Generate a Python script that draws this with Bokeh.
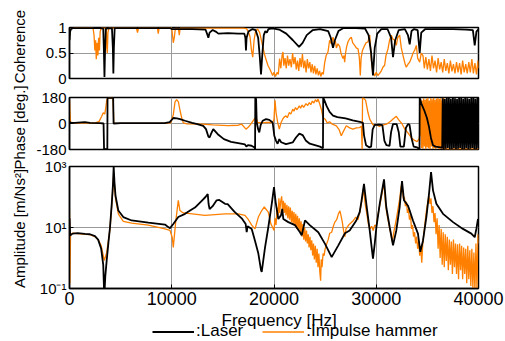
import numpy as np
from bokeh.plotting import figure
from bokeh.models import Range1d, FixedTicker, Grid, Legend, LegendItem, Label
from bokeh.layouts import column, row
from bokeh.embed import file_html
from bokeh.resources import INLINE

FONT = "Liberation Sans"
BLACK = "#000000"
ORANGE = "#ff8000"
GRID = "#9a9a9a"

# ---------------- data (frequency [Hz], value) ----------------
x_ticks = [0, 10000, 20000, 30000, 40000]
x_tick_labels = ["0", "10000", "20000", "30000", "40000"]
coh_ticks = [0, 0.5, 1]
coh_tick_labels = ["0", "0.5", "1"]
phase_ticks = [-180, 0, 180]
phase_tick_labels = ["-180", "0", "180"]
amp_ticks = [0.1, 10, 1000]
amp_tick_labels = ["10\u207b\u00b9", "10\u00b9", "10\u00b3"]

laser_coherence = [
    (0, 0.75), (60, 0.92), (150, 0.97), (400, 0.99), (1500, 0.99), (3000, 0.99), (3300, 0.98),
    (3370, 0.5), (3420, 0.03), (3470, 0.5), (3550, 0.98), (4150, 0.99), (4240, 0.6), (4290, 0.1),
    (4340, 0.6), (4420, 0.99), (6000, 0.99), (9800, 0.99), (10000, 0.97), (12000, 0.97),
    (13300, 0.96), (13500, 0.85), (13580, 0.8), (13700, 0.9), (14000, 0.95), (14300, 0.92),
    (14560, 0.88), (15500, 0.89), (16500, 0.88), (17100, 0.88), (17200, 0.8), (17260, 0.55),
    (17320, 0.8), (17500, 0.92), (17900, 0.97), (18200, 0.95), (18450, 0.8), (18600, 0.45),
    (18730, 0.08), (18850, 0.45), (19000, 0.85), (19150, 0.93), (19300, 0.9), (19450, 0.97),
    (19700, 0.98), (20000, 0.98), (20500, 0.96), (21200, 0.88), (21850, 0.75), (22450, 0.62),
    (22800, 0.7), (23200, 0.85), (23800, 0.95), (24500, 0.97), (25300, 0.93), (25550, 0.8),
    (25770, 0.6), (25950, 0.75), (26300, 0.93), (26800, 0.99), (28000, 0.99), (28900, 0.98),
    (29250, 0.85), (29500, 0.5), (29680, 0.06), (29850, 0.6), (30100, 0.88), (30500, 0.97),
    (31100, 0.97), (31450, 0.8), (31640, 0.42), (31850, 0.75), (32200, 0.95), (32800, 0.97),
    (33100, 0.85), (33270, 0.67), (33450, 0.93), (33700, 0.97), (34050, 0.95), (34250, 0.5),
    (34400, 0.9), (34800, 0.97), (36000, 0.97), (37500, 0.97), (38800, 0.96), (39450, 0.95),
    (39630, 0.65), (39800, 0.92), (40000, 0.97)]

hammer_coherence = [
    (0, 0.85), (80, 0.97), (300, 0.99), (2300, 0.99), (2400, 0.85), (2480, 0.55), (2550, 0.75),
    (2620, 0.38), (2700, 0.7), (2780, 0.45), (2850, 0.8), (2930, 0.55), (3000, 0.92), (3100, 0.99),
    (3600, 0.99), (3650, 0.6), (3700, 0.5), (3760, 0.9), (3850, 0.99), (6550, 0.99), (6650, 0.9),
    (6750, 0.99), (8600, 0.99), (8680, 0.88), (8760, 0.99), (10000, 0.99), (10150, 0.7),
    (10250, 0.8), (10350, 0.98), (10650, 0.98), (10740, 0.85), (10820, 0.99), (17000, 0.99),
    (17300, 0.98), (17500, 0.92), (17650, 0.82), (17800, 0.55), (17920, 0.42), (18050, 0.75),
    (18200, 0.93), (18400, 0.97), (18600, 0.9), (18800, 0.72), (19100, 0.45), (19400, 0.26),
    (19600, 0.18), (19870, 0.06), (20000, 0.12), (20150, 0.04), (20300, 0.12), (20420, 0.08),
    (20550, 0.39), (20670, 0.2), (20790, 0.45), (20880, 0.52), (20960, 0.25), (21080, 0.4),
    (21200, 0.2), (21320, 0.45), (21440, 0.25), (21560, 0.38), (21700, 0.22), (21820, 0.5),
    (21940, 0.28), (22060, 0.42), (22180, 0.18), (22300, 0.35), (22420, 0.15), (22540, 0.4),
    (22660, 0.22), (22780, 0.48), (22900, 0.2), (23020, 0.35), (23140, 0.12), (23260, 0.38),
    (23380, 0.2), (23500, 0.32), (23620, 0.12), (23740, 0.28), (23860, 0.1), (23980, 0.25),
    (24100, 0.08), (24220, 0.2), (24340, 0.06), (24460, 0.15), (24580, 0.04), (24700, 0.12),
    (24820, 0.08), (24950, 0.3), (25100, 0.45), (25280, 0.52), (25440, 0.75), (25600, 0.68),
    (25770, 0.81), (25900, 0.7), (26000, 0.74), (26100, 0.6), (26250, 0.68), (26420, 0.63),
    (26550, 0.5), (26650, 0.44), (26750, 0.39), (26850, 0.45), (26910, 0.32), (27000, 0.5),
    (27100, 0.62), (27240, 0.72), (27400, 0.78), (27560, 0.81), (27700, 0.7), (27890, 0.65),
    (28050, 0.6), (28220, 0.58), (28350, 0.4), (28440, 0.06), (28520, 0.4), (28650, 0.55),
    (28870, 0.65), (29000, 0.7), (29190, 0.72), (29360, 0.85), (29450, 0.6), (29520, 0.35),
    (29650, 0.15), (29850, 0.05), (30000, 0.12), (30150, 0.06), (30330, 0.1), (30500, 0.15),
    (30650, 0.22), (30820, 0.26), (30950, 0.45), (31150, 0.58), (31300, 0.75), (31470, 0.85),
    (31600, 0.78), (31800, 0.75), (31960, 0.65), (32100, 0.8), (32290, 0.85), (32450, 0.6),
    (32620, 0.45), (32800, 0.3), (32940, 0.22), (33100, 0.28), (33270, 0.32), (33430, 0.4),
    (33600, 0.5), (33750, 0.55), (33920, 0.65), (34050, 0.4), (34250, 0.32), (34400, 0.5),
    (34570, 0.45), (34700, 0.2), (34850, 0.42), (35000, 0.18), (35150, 0.38), (35300, 0.15),
    (35450, 0.45), (35600, 0.2), (35750, 0.35), (35900, 0.12), (36050, 0.4), (36200, 0.18),
    (36350, 0.32), (36500, 0.12), (36650, 0.38), (36800, 0.15), (36950, 0.3), (37100, 0.1),
    (37250, 0.35), (37400, 0.14), (37550, 0.28), (37700, 0.1), (37850, 0.32), (38000, 0.12),
    (38150, 0.3), (38300, 0.08), (38450, 0.35), (38600, 0.12), (38750, 0.28), (38900, 0.1),
    (39050, 0.32), (39200, 0.12), (39350, 0.38), (39500, 0.1), (39650, 0.3), (39800, 0.08),
    (39950, 0.35), (40000, 0.2)]

laser_phase = [
    (0, 15), (60, 5), (500, 4), (1500, 10), (2000, 5), (3000, 3), (3330, 0), (3380, -178),
    (3700, -178), (3720, 179), (4270, 178), (4310, 0), (5000, 3), (9300, 3), (9800, 10),
    (10150, 38), (10500, 35), (10810, 30), (11300, 19), (12000, 5), (12500, -4), (13080, -16),
    (13350, -39), (13580, -90), (13700, -97), (13850, -70), (14060, -39), (14500, -74),
    (15100, -108), (15800, -127), (16500, -136), (17160, -145), (17300, -160), (17450, -150),
    (17800, -154), (18100, -166), (18150, -179), (18170, 179), (18250, 170), (18310, 7),
    (18450, -40), (18560, -62), (18700, -10), (18890, 19), (19220, 30), (19540, 25), (19870, 7),
    (20030, -85), (20200, -120), (20350, -140), (20520, -108), (20700, -130), (21170, -143),
    (21830, -131), (22150, -97), (22480, -70), (22800, -80), (23130, -120), (23500, -140),
    (24000, -150), (24500, -160), (24790, -172), (24810, 179), (24900, 165), (25150, 120),
    (25440, 80), (25770, 55), (26200, 44), (27000, 35), (27700, 22), (28400, 12), (28700, 5),
    (28800, -80), (29000, -150), (29300, -165), (29500, -160), (29650, -40), (29850, -10),
    (30300, -8), (30600, -12), (30800, -120), (30990, -150), (31300, -155), (31450, -60),
    (31630, -5), (32000, -5), (32200, -60), (32360, -160), (32700, -160), (32900, -30),
    (33100, -5), (33250, -8), (33450, -100), (33660, -160), (34000, -165), (34230, -178),
    (34250, 179), (34400, 140), (34700, 90), (34950, 40), (35150, -20), (35350, -100),
    (35550, -150), (35800, -160), (36300, -165), (36450, -170), (36500, 175), (36600, -178),
    (36700, 170), (36800, -175), (36900, 178), (37000, -170), (37100, 176), (37200, -178),
    (37300, 172), (37400, -176), (37500, 178), (37600, -172), (37700, 175), (37800, -178),
    (37900, 170), (38000, -175), (38100, 178), (38200, -170), (38300, 176), (38400, -178),
    (38500, 172), (38600, -176), (38700, 178), (38800, -172), (38900, 175), (39000, -178),
    (39100, 170), (39200, -175), (39300, 178), (39400, -170), (39500, 176), (39600, -178),
    (39700, 172), (39800, -176), (39900, 178), (40000, -170)]

hammer_phase = [
    (0, 160), (40, 90), (100, 10), (500, 3), (1500, 5), (2500, 3), (2900, 15), (3150, 50),
    (3300, 75), (3450, 65), (3550, 110), (3650, 165), (3800, 176), (4250, 176), (4300, 80),
    (4330, 2), (6000, 1), (9500, 2), (9900, 5), (10150, 60), (10320, 150), (10480, 165),
    (10650, 150), (10810, 90), (10970, 40), (11130, 5), (11500, -2), (13000, -5), (14000, -10),
    (15500, -15), (16500, -12), (16840, -5), (17260, -39), (17500, -25), (17750, -3),
    (18070, 30), (18240, 41), (18400, 7), (18800, 5), (19300, 8), (19870, 7), (20000, 30),
    (20100, 160), (20200, 76), (20360, 7), (20520, -39), (20690, 7), (20850, 30), (21000, 45),
    (21170, 53), (21300, 40), (21500, 76), (21650, 65), (21830, 99), (21950, 85), (22100, 110),
    (22250, 95), (22480, 122), (22600, 105), (22750, 128), (22900, 112), (23130, 138),
    (23300, 125), (23450, 145), (23600, 130), (23750, 155), (23900, 142), (24050, 165),
    (24200, 150), (24300, 170), (24450, 140), (24630, 99), (24790, 41), (25000, 30),
    (25200, 5), (25440, 12), (25700, -5), (26100, -16), (26350, -40), (26580, -85),
    (26750, -60), (27070, -16), (27400, -30), (27720, -39), (28050, -30), (28370, -28),
    (28550, -20), (28620, -179), (28660, 179), (28800, 172), (28960, 160), (29190, 76),
    (29360, 30), (29680, -10), (30000, -8), (30300, -20), (30700, -10), (31000, -5),
    (31400, 15), (31700, 35), (31960, 50), (32200, 25), (32500, 0), (32800, -40), (33100, -65),
    (33400, -95), (33700, -115), (34000, -125), (34200, -105), (34300, -60), (34350, 170),
    (34420, -170), (34490, 160), (34560, -175), (34630, 175), (34700, -160), (34770, 165),
    (34840, -178), (34910, 172), (34980, -165), (35050, 178), (35120, -172), (35190, 160),
    (35260, -178), (35330, 175), (35400, -160), (35470, 168), (35540, -175), (35610, 178),
    (35680, -170), (35750, 165), (35820, -178), (35890, 172), (35960, -168), (36030, 176),
    (36100, -175), (36170, 170), (36240, -178), (36310, 175), (36380, -172), (36450, 160),
    (36520, -178), (36600, 178), (36700, -175), (40000, -175)]

laser_amplitude = [
    (0, 20), (60, 5.5), (300, 6.3), (800, 6.5), (1500, 6.2), (2000, 6.0), (2490, 5.2),
    (2800, 4.0), (3100, 2.0), (3300, 0.6), (3400, 0.05), (3500, 0.25), (3640, 0.85), (3800, 3),
    (3960, 10), (4125, 55), (4250, 250), (4320, 1000), (4400, 300), (4500, 110), (4775, 36),
    (5260, 22), (6080, 17), (7710, 14.5), (9340, 12.5), (9660, 10.3), (9830, 9.5), (10150, 13),
    (10640, 22), (11300, 28), (11790, 36), (12270, 45), (12930, 75), (13300, 100), (13520, 125),
    (13600, 60), (13700, 40), (14000, 50), (14390, 78), (14650, 80), (15210, 60), (15470, 58),
    (16120, 33), (16840, 20), (17230, 13), (17330, 7), (17420, 11), (17820, 9), (18140, 3.7),
    (18470, 1.4), (18730, 0.4), (18800, 0.35), (19120, 2.2), (19440, 10), (19780, 60),
    (20000, 210), (20160, 68), (20420, 19), (20680, 25), (20810, 41), (20910, 19), (21400, 15),
    (22050, 12), (22540, 7), (22710, 5.5), (23030, 17), (23500, 12), (24330, 7), (24990, 2.9),
    (25640, 1.07), (26290, 2.6), (26940, 6.5), (27400, 8), (28050, 17), (28380, 32),
    (28540, 68), (28800, 270), (29030, 60), (29360, 8), (29680, 0.95), (29850, 2.9),
    (30010, 10), (30340, 60), (30760, 380), (30980, 47), (31320, 10), (31640, 2.6), (31960, 8),
    (32290, 47), (32520, 330), (32710, 78), (33100, 52), (33270, 36), (33590, 17), (34080, 6.3),
    (34310, 1.6), (34570, 3.7), (34900, 22), (35160, 126), (35360, 650), (35550, 165),
    (35880, 60), (36530, 28), (37510, 15), (38480, 9), (39300, 6.3), (39630, 4.8), (39790, 9),
    (39950, 19)]

hammer_amplitude = [
    (0, 35), (40, 0.15), (100, 6), (300, 6.5), (800, 6.3), (1500, 6.0), (2000, 5.8),
    (2490, 5.0), (2800, 4.0), (3100, 2.5), (3400, 0.83), (3640, 1.5), (3960, 9), (4125, 50),
    (4250, 200), (4320, 600), (4400, 250), (4500, 90), (4775, 28), (5260, 16), (6080, 14),
    (7710, 12), (9340, 9), (9830, 8), (10050, 4.7), (10150, 2.2), (10250, 5), (10400, 17),
    (10640, 78), (10800, 36), (11130, 30), (12000, 28), (13250, 25), (15210, 28), (16510, 28),
    (17160, 25), (17500, 18), (17820, 12), (18140, 9), (18470, 22), (18800, 36), (19050, 47),
    (19440, 32), (19700, 13), (19870, 10), (20000, 8), (20100, 20), (20200, 12), (20300, 45),
    (20400, 25), (20480, 90), (20560, 30), (20650, 70), (20750, 105), (20830, 35), (20920, 75),
    (21000, 30), (21080, 65), (21170, 25), (21260, 55), (21350, 20), (21430, 50), (21520, 18),
    (21600, 45), (21700, 15), (21780, 35), (21870, 13), (21950, 32), (22050, 11), (22130, 28),
    (22220, 9), (22300, 24), (22400, 8), (22480, 20), (22570, 7), (22650, 16), (22740, 5),
    (22820, 13), (22920, 4), (23000, 10), (23090, 3.5), (23180, 8), (23260, 3), (23350, 6),
    (23430, 2.2), (23520, 5), (23600, 1.8), (23690, 3.8), (23780, 1.2), (23860, 3), (23950, 0.9),
    (24040, 2.5), (24130, 0.7), (24220, 2), (24300, 0.5), (24390, 1.4), (24480, 0.35),
    (24560, 0.18), (24620, 0.9), (24700, 0.5), (24800, 1.4), (24900, 1.2), (25000, 2),
    (25150, 2.9), (25300, 4), (25450, 6.5), (25640, 7), (25800, 11), (25950, 15), (26130, 18),
    (26300, 28), (26450, 35), (26550, 25), (26680, 15), (26800, 8), (26940, 5), (27040, 9),
    (27300, 12), (27700, 16), (28000, 22), (28200, 18), (28380, 30), (28540, 60), (28700, 130),
    (28780, 220), (28850, 90), (28950, 50), (29100, 25), (29250, 12), (29400, 9), (29550, 11),
    (29700, 8), (29850, 12), (30000, 11), (30150, 25), (30300, 45), (30450, 80), (30600, 150),
    (30700, 260), (30800, 180), (30900, 60), (31000, 35), (31100, 22), (31200, 15), (31320, 9),
    (31450, 6), (31550, 3.5), (31650, 5), (31750, 8), (31850, 12), (32000, 22), (32150, 45),
    (32300, 90), (32420, 200), (32500, 280), (32580, 150), (32650, 90), (32750, 100),
    (32850, 50), (32950, 70), (33050, 30), (33150, 40), (33250, 18), (33350, 25), (33450, 9),
    (33550, 12), (33650, 5), (33750, 7), (33850, 3), (33950, 5), (34050, 2), (34150, 3.5),
    (34250, 1.2), (34350, 2.5), (34450, 0.7), (34550, 3), (34650, 6), (34750, 12), (34850, 25),
    (34950, 45), (35050, 70), (35150, 110), (35250, 60), (35350, 90), (35450, 30), (35550, 50),
    (35650, 15), (35750, 30), (35850, 6), (35950, 20), (36050, 2), (36150, 12), (36250, 1),
    (36350, 9), (36450, 0.6), (36550, 7), (36650, 0.5), (36750, 6), (36850, 0.8), (36950, 5),
    (37050, 0.4), (37150, 4), (37250, 0.6), (37350, 3.5), (37450, 0.3), (37550, 4), (37650, 0.5),
    (37750, 3), (37850, 0.3), (37950, 2.8), (38050, 0.2), (38150, 3), (38250, 0.4), (38350, 2.5),
    (38450, 0.2), (38550, 2.2), (38650, 0.3), (38750, 2), (38850, 0.15), (38950, 2.5),
    (39050, 0.2), (39150, 1.8), (39250, 0.12), (39350, 2), (39450, 0.1), (39550, 1.5),
    (39650, 0.08), (39750, 3), (39850, 0.09), (39950, 6), (40000, 3)]


def xy(pairs):
    f, v = zip(*pairs)
    return list(f), list(v)


PW = 475  # panel width (frame 409 px)


def panel(height, b_top, b_bottom, y_range, y_type, yticks, ylabels, ygrid, show_x):
    p = figure(width=PW, height=height, x_range=Range1d(0, 40000),
               y_range=y_range, y_axis_type=y_type,
               x_axis_location="below" if show_x else None,
               output_backend="svg", toolbar_location=None,
               min_border_left=39, min_border_right=27, min_border_top=b_top,
               min_border_bottom=b_bottom, background_fill_color="white",
               border_fill_color="white")
    p.center = [r for r in p.center if not isinstance(r, Grid)]
    for ax in p.axis:
        ax.major_tick_in = 4
        ax.major_tick_out = 0
        ax.minor_tick_in = 0
        ax.minor_tick_out = 0
        ax.axis_line_color = BLACK
        ax.axis_line_width = 1.5
        ax.major_tick_line_color = BLACK
        ax.major_tick_line_width = 1
        ax.major_label_text_font = FONT
        ax.major_label_text_font_size = "15px"
        ax.major_label_text_color = BLACK
        ax.major_label_standoff = 3
    for ax in p.yaxis:
        ax.ticker = FixedTicker(ticks=yticks)
        ax.major_label_overrides = dict(zip(yticks, ylabels))
    if show_x:
        for ax in p.xaxis:
            ax.ticker = FixedTicker(ticks=x_ticks)
            ax.major_label_overrides = dict(zip(x_ticks, x_tick_labels))
            ax.major_label_text_font_size = "18px"
            ax.major_label_standoff = 3
    p.add_layout(Grid(dimension=0, ticker=FixedTicker(ticks=x_ticks[1:-1]),
                      grid_line_color=GRID, grid_line_width=1))
    p.add_layout(Grid(dimension=1, ticker=FixedTicker(ticks=[ygrid]),
                      grid_line_color=GRID, grid_line_width=1))
    p.outline_line_color = BLACK
    p.outline_line_width = 1.5
    return p


def blank(width, height):
    b = figure(width=width, height=height, x_range=Range1d(0, width),
               y_range=Range1d(0, height), x_axis_location=None, y_axis_location=None,
               output_backend="svg", toolbar_location=None, min_border=0)
    b.grid.visible = False
    b.outline_line_color = None
    return b


# coherence: frame 27..78
p1 = panel(88, 27, 10, Range1d(0, 1), "linear", coh_ticks, coh_tick_labels, 0.5, False)
f, v = xy(hammer_coherence)
p1.line(f, v, line_color=ORANGE, line_width=1.3)
f, v = xy(laser_coherence)
p1.line(f, v, line_color=BLACK, line_width=1.8)

# phase: frame 97..149
p2 = panel(69, 9, 8, Range1d(-180, 180), "linear", phase_ticks, phase_tick_labels, 0, False)
f, v = xy(hammer_phase)
p2.line(f, v, line_color=ORANGE, line_width=1.3)
f, v = xy(laser_phase)
p2.line(f, v, line_color=BLACK, line_width=1.8)

# amplitude: frame 166..288
p3 = panel(155, 9, 24, Range1d(0.1, 1000), "log", amp_ticks, amp_tick_labels, 10, True)
f, v = xy(hammer_amplitude)
p3.line(f, v, line_color=ORANGE, line_width=1.3)
f, v = xy(laser_amplitude)
p3.line(f, v, line_color=BLACK, line_width=1.8)

# bottom strip: x-axis title and legend (page y 312..341)
SH = 29
strip = blank(PW, SH)
strip.add_layout(Label(x=243.5, y=SH - 7.5, text="Frequency [Hz]", text_align="center",
                       text_baseline="middle", text_font=FONT, text_font_size="17px",
                       text_color=BLACK))
# legend swatches only (a single point draws no line)
g_las = strip.line([0], [0], line_color=BLACK, line_width=1.8)
g_ham = strip.line([0], [0], line_color=ORANGE, line_width=1.3)
legend = Legend(items=[LegendItem(label=":Laser", renderers=[g_las]),
                       LegendItem(label=":Impulse hammer", renderers=[g_ham])],
                location=(83, 0), orientation="horizontal",
                border_line_alpha=0, background_fill_alpha=0, padding=0, margin=0,
                spacing=19, glyph_width=42, glyph_height=17, label_standoff=2,
                label_height=17, label_text_font=FONT, label_text_font_size="17px",
                label_text_color=BLACK)
strip.add_layout(legend, "center")

# y-axis titles in a narrow side strip
H = 341
lab = blank(30, H)
for txt, ypage in [("Coherence", 46), ("Phase [deg.]", 127), ("Amplitude [m/Ns\u00b2]", 228)]:
    lab.add_layout(Label(x=19, y=H - ypage, text=txt, angle=np.pi / 2,
                         text_align="center", text_baseline="middle",
                         text_font=FONT, text_font_size="15px", text_color=BLACK))

layout = row(lab, column(p1, p2, p3, strip))
open("out.html", "w").write(file_html(layout, INLINE))
